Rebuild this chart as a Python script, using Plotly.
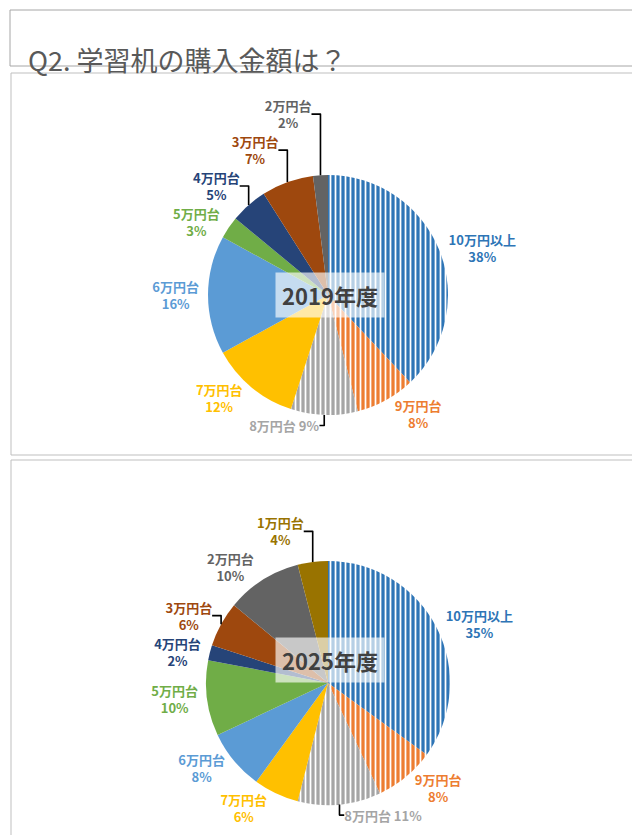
import plotly.graph_objects as go

labels19 = ["10万円以上","9万円台","8万円台","7万円台","6万円台","5万円台","4万円台","3万円台","2万円台"]
values19 = [38,8,9,12,16,3,5,7,2]
labels25 = ["10万円以上","9万円台","8万円台","7万円台","6万円台","5万円台","4万円台","3万円台","2万円台","1万円台"]
values25 = [35,8,11,6,8,10,2,6,10,4]
cmap = {"10万円以上":"#2E75B6","9万円台":"#ED7D31","8万円台":"#A5A5A5","7万円台":"#FFC000",
        "6万円台":"#5B9BD5","5万円台":"#70AD47","4万円台":"#264478","3万円台":"#9E480E",
        "2万円台":"#636363","1万円台":"#997300"}
striped = {"10万円以上","9万円台","8万円台"}
F = "Noto Sans CJK JP"

def pie(labels, values, y0, y1):
    cols = [cmap[l] for l in labels]
    tmpl = ["%{label} %{percent:.0%}" if l == "8万円台" else "%{label}<br>%{percent:.0%}" for l in labels]
    return go.Pie(labels=labels, values=values, sort=False, direction="clockwise", rotation=0,
        domain=dict(x=[0.1,0.9], y=[y0,y1]), textposition="outside", automargin=False,
        texttemplate=tmpl, hoverinfo="skip",
        marker=dict(colors=cols, line=dict(width=0),
            pattern=dict(shape=["|" if l in striped else "" for l in labels],
                         fgcolor="white", bgcolor=cols, solidity=0.35, size=5)),
        outsidetextfont=dict(color=cols, size=13, family=F, weight="bold"), showlegend=False)

fig = go.Figure([pie(labels19, values19, 0.5126, 0.80), pie(labels25, values25, 0.0455, 0.3377)])
shapes = [
    dict(type="rect", xref="paper", yref="paper", x0=2/640, x1=638/640, y0=1-58/835, y1=1-2/835, line=dict(color="#A6A6A6", width=1)),
    dict(type="rect", xref="paper", yref="paper", x0=3/640, x1=637/640, y0=1-447/835, y1=1-65/835, line=dict(color="#BFBFBF", width=1)),
    dict(type="rect", xref="paper", yref="paper", x0=3/640, x1=637/640, y0=1-832/835, y1=1-452/835, line=dict(color="#BFBFBF", width=1)),
]
anns = [
    dict(text="Q2. 学習机の購入金額は？", x=18/640, y=1-30/835, xref="paper", yref="paper", xanchor="left",
         showarrow=False, font=dict(family=F, size=27, color="#595959")),
    dict(text="2019年度", x=322/640, y=1-287/835, xref="paper", yref="paper", showarrow=False,
         bgcolor="rgba(255,255,255,0.65)", borderpad=6, font=dict(family=F, size=22, color="#404040", weight="bold")),
    dict(text="2025年度", x=322/640, y=1-675/835, xref="paper", yref="paper", showarrow=False,
         bgcolor="rgba(255,255,255,0.65)", borderpad=6, font=dict(family=F, size=22, color="#404040", weight="bold")),
]
fig.update_layout(width=640, height=835, margin=dict(l=0,r=0,t=0,b=0, autoexpand=False), paper_bgcolor="white",
                  shapes=shapes, annotations=anns, font=dict(family=F))
fig.write_html("out.html")
